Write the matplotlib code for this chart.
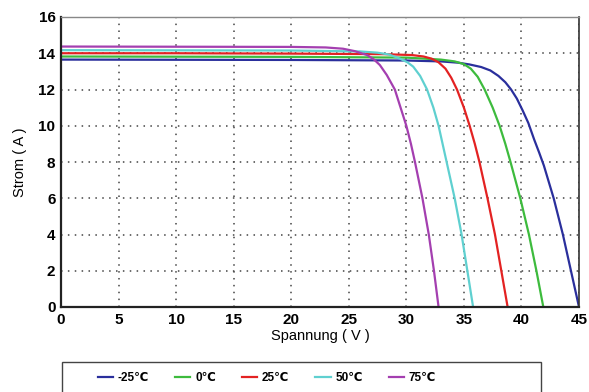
import matplotlib
matplotlib.use("Agg")
import matplotlib.pyplot as plt
from matplotlib.patches import Rectangle

plt.rcParams['font.family'] = ['Liberation Sans', 'DejaVu Sans']

labels = ['-25℃', '0℃', '25℃', '50℃', '75℃']
colors = ['#2a2f9c', '#3dbb3d', '#e32222', '#5fd0d0', '#a43fb0']

v_m25 = [0, 10, 20, 30, 33, 34.5, 35.5, 36.5, 37.3, 38.0, 38.6, 39.1, 39.6, 40.1, 40.6, 41.1, 41.55, 41.95, 42.8, 43.6, 44.3, 45]
i_m25 = [13.65, 13.64, 13.63, 13.6, 13.55, 13.48, 13.38, 13.24, 13.05, 12.75, 12.4, 12.0, 11.5, 10.85, 10.15, 9.25, 8.5, 7.8, 6.0, 4.0, 2.0, 0]

v_0 = [0, 10, 20, 30, 33, 34.2, 35, 35.6, 36.2, 36.8, 37.5, 38.1, 38.6, 39.05, 39.9, 40.65, 41.3, 41.9]
i_0 = [13.82, 13.81, 13.8, 13.76, 13.65, 13.55, 13.4, 13.15, 12.7, 12.0, 11.0, 10.0, 9.0, 8.0, 6.0, 4.0, 2.0, 0]

v_25 = [0, 10, 20, 28, 30.5, 31.5, 32.2, 32.8, 33.4, 33.9, 34.4, 35.0, 35.5, 35.95, 36.35, 37.05, 37.7, 38.25, 38.8]
i_25 = [14.0, 14.0, 13.98, 13.95, 13.9, 13.82, 13.7, 13.5, 13.15, 12.65, 12.0, 11.0, 10.0, 9.0, 8.0, 6.0, 4.0, 2.0, 0]

v_50 = [0, 10, 20, 26, 27.5, 28.5, 29.45, 30.1, 30.6, 31.2, 31.8, 32.35, 32.8, 33.15, 33.5, 34.2, 34.8, 35.3, 35.8]
i_50 = [14.17, 14.16, 14.15, 14.1, 14.03, 13.93, 13.7, 13.5, 13.26, 12.75, 12.0, 11.0, 10.0, 9.0, 8.0, 6.0, 4.0, 2.0, 0]

v_75 = [0, 10, 20, 23, 24.5, 25.5, 26.6, 27.2, 27.7, 28.3, 29.0, 29.5, 30.0, 30.4, 30.75, 31.4, 31.95, 32.4, 32.8]
i_75 = [14.37, 14.36, 14.35, 14.32, 14.25, 14.12, 13.9, 13.65, 13.35, 12.8, 12.0, 11.0, 10.0, 9.0, 8.0, 6.0, 4.0, 2.0, 0]

x_ticks = [0, 5, 10, 15, 20, 25, 30, 35, 40, 45]
y_ticks = [0, 2, 4, 6, 8, 10, 12, 14, 16]

series = [(v_m25, i_m25), (v_0, i_0), (v_25, i_25), (v_50, i_50), (v_75, i_75)]

fig = plt.figure(figsize=(5.89, 3.92), dpi=100)
ax = fig.add_axes([61/589, 1-307/392, (579-61)/589, (307-17)/392])

for (v, i), c, lab in zip(series, colors, labels):
    ax.plot(v, i, color=c, lw=1.6, label=lab, solid_joinstyle='round')

ax.set_xlim(0, 45)
ax.set_ylim(0, 16)
ax.set_xticks(x_ticks)
ax.set_yticks(y_ticks)
ax.grid(True, color='#444444', linestyle=(0, (1, 3.5)), lw=1.1)
ax.tick_params(length=0, pad=4, labelsize=11)
for lab in ax.get_xticklabels() + ax.get_yticklabels():
    lab.set_fontweight('bold')
ax.spines['left'].set_linewidth(1.6)
ax.spines['bottom'].set_linewidth(1.6)
ax.spines['left'].set_color('#222222')
ax.spines['bottom'].set_color('#222222')
ax.spines['top'].set_color('#888888')
ax.spines['top'].set_linewidth(1.0)
ax.spines['right'].set_color('#333333')
ax.spines['right'].set_linewidth(1.2)

ax.set_xlabel('Spannung ( V )', fontsize=10.5, labelpad=2)
ax.set_ylabel('Strom ( A )', fontsize=10.5, labelpad=8)

fig.patches.append(Rectangle((62/589, -0.05), (541-62)/589, 0.05 + (392-362)/392,
                             transform=fig.transFigure, fill=False,
                             edgecolor='#444444', lw=1.0))
handles, labs = ax.get_legend_handles_labels()
leg = fig.legend(handles, labs, loc='center', bbox_to_anchor=(267/589, 1-378/392),
                 ncol=5, frameon=False, handlelength=1.3, handletextpad=0.4,
                 columnspacing=2.2, prop={'weight': 'bold', 'size': 8.5})

fig.savefig('out.png', dpi=100)
